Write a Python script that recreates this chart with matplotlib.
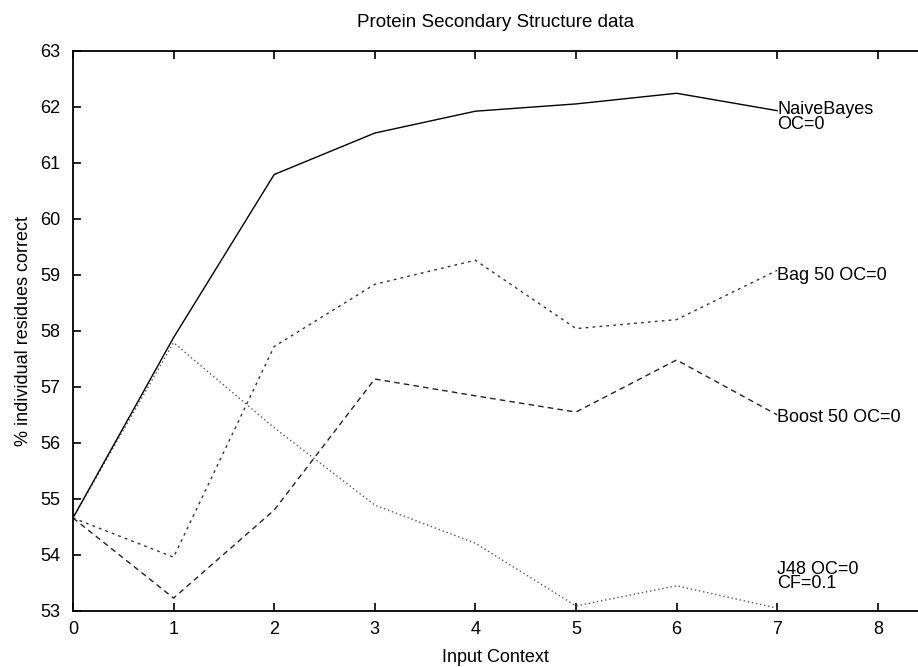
import matplotlib
matplotlib.use("Agg")
import matplotlib.pyplot as plt

plt.rcParams['font.family'] = ['Liberation Sans', 'DejaVu Sans']

context = [0, 1, 2, 3, 4, 5, 6, 7]
naive_bayes = [54.66, 57.88, 60.79, 61.53, 61.92, 62.05, 62.24, 61.93]
bag50 = [54.66, 53.96, 57.72, 58.83, 59.26, 58.04, 58.20, 59.08]
boost50 = [54.66, 53.23, 54.80, 57.14, 56.84, 56.55, 57.48, 56.50]
j48 = [54.66, 57.79, 56.27, 54.89, 54.21, 53.09, 53.45, 53.05]

x_ticks = [0, 1, 2, 3, 4, 5, 6, 7, 8]
y_ticks = [53, 54, 55, 56, 57, 58, 59, 60, 61, 62, 63]

fig = plt.figure(figsize=(9.18, 6.67), dpi=100)
ax = fig.add_axes([0.0795, 0.084, 0.9205, 0.84])

ax.plot(context, j48, color='#555555', lw=1.0, linestyle=(0, (1, 2)))
ax.plot(context, boost50, color='#222222', lw=1.0, linestyle=(0, (4, 3)))
ax.plot(context, bag50, color='#333333', lw=1.0, linestyle=(0, (2, 3)))
ax.plot(context, naive_bayes, color='black', lw=1.0, linestyle='-')

fs = 13
ax.text(7.0, 62.1, "NaiveBayes\nOC=0", fontsize=fs, va='top', ha='left',
        linespacing=0.82)
ax.text(7.0, 58.98, "Bag 50 OC=0", fontsize=fs, va='center', ha='left')
ax.text(7.0, 56.46, "Boost 50 OC=0", fontsize=fs, va='center', ha='left')
ax.text(7.0, 53.9, "J48 OC=0\nCF=0.1", fontsize=fs, va='top', ha='left',
        linespacing=0.82)

ax.set_xlim(0, 8.4)
ax.set_ylim(53, 63)
ax.set_xticks(x_ticks)
ax.set_yticks(y_ticks)
ax.tick_params(direction='in', length=6, width=1.2, labelsize=fs,
               top=True, right=False, pad=7)
ax.tick_params(axis='y', pad=9)
ax.spines['right'].set_visible(False)
for s in ['left', 'bottom', 'top']:
    ax.spines[s].set_linewidth(1.3)

ax.set_title("Protein Secondary Structure data", fontsize=13.5, pad=17)
ax.set_xlabel("Input Context", fontsize=13, labelpad=8)
ax.set_ylabel("% individual residues correct", fontsize=13, labelpad=6)

fig.savefig("out.png", dpi=100)
